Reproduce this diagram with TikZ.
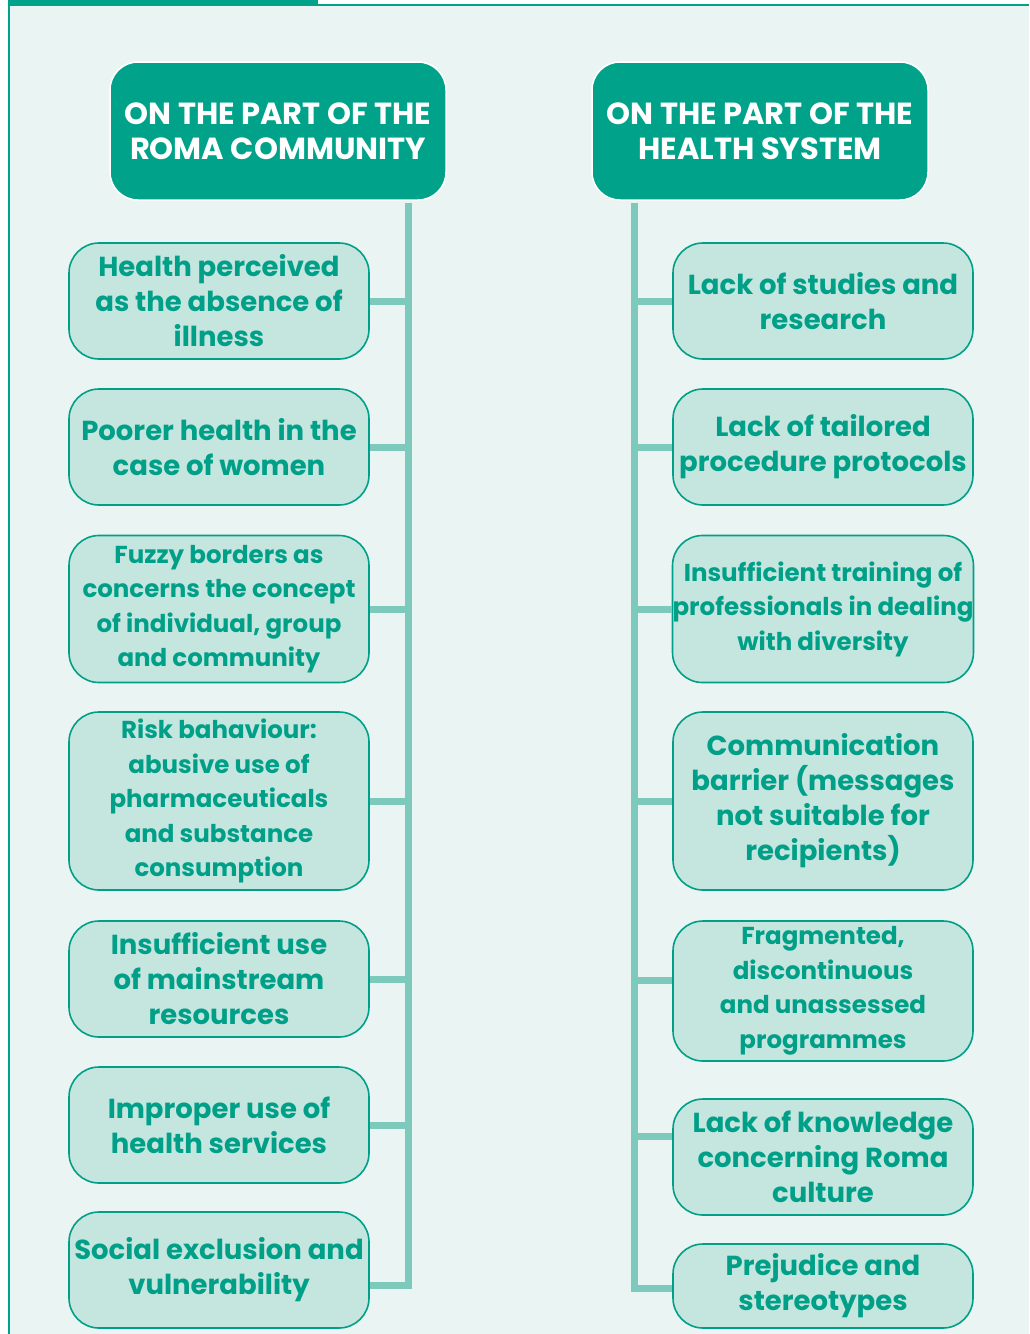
\documentclass[tikz,border=0pt]{standalone}
\usepackage{fontspec}
\setmainfont{Poppins}
\definecolor{romateal}{HTML}{00A389}
\definecolor{romabg}{HTML}{EAF4F2}
\definecolor{romabox}{HTML}{C5E5DF}
\definecolor{romatext}{HTML}{00A088}
\definecolor{romaline}{HTML}{7DC9BB}

\begin{document}
\begin{tikzpicture}[x=1pt, y=-1pt,
    header/.style={rectangle, draw=white, line width=1.5pt, fill=romateal, rounded corners=28pt,
        minimum width=336pt, minimum height=138pt, text=white, align=center,
        font=\fontsize{30.5}{35}\selectfont\bfseries},
    item/.style={rectangle, draw=romatext, line width=1.6pt, fill=romabox, rounded corners=30pt,
        minimum width=300pt, inner sep=0pt, text=romatext, align=center,
        font=\fontsize{27.5}{35}\selectfont\bfseries},
    itemsmall/.style={item, font=\fontsize{24.5}{34.5}\selectfont\bfseries},
    branch/.style={draw=romaline, line width=7pt}]
            \useasboundingbox (0,0) rectangle (1029,1334);

            % Frame
            \fill[romabg] (9,5) rectangle (1029,1334);
            \draw[romateal, line width=2.5pt] (9,1334) -- (9,5) -- (1029,5);
            \fill[romateal] (8,0) rectangle (318,5);

            % Headers
            \node[header] (hl) at (278,131) {ON THE PART OF THE\\ROMA COMMUNITY};
            \node[header] (hr) at (760,131) {ON THE PART OF THE\\HEALTH SYSTEM};

            % Roma community
            \node[item, minimum height=116pt] (l1) at (219,301) {Health perceived\\as the absence of\\illness};
            \node[item, minimum height=116pt] (l2) at (219,447) {Poorer health in the\\case of women};
            \node[itemsmall, minimum height=147pt] (l3) at (219,609) {Fuzzy borders as\\concerns the concept\\of individual, group\\and community};
            \node[itemsmall, minimum height=178pt] (l4) at (219,801) {Risk bahaviour:\\abusive use of\\pharmaceuticals\\and substance\\consumption};
            \node[item, minimum height=116pt] (l5) at (219,979) {Insufficient use\\of mainstream\\resources};
            \node[item, minimum height=116pt] (l6) at (219,1125) {Improper use of\\health services};
            \node[item, minimum height=116pt] (l7) at (219,1270) {Social exclusion and\\vulnerability};

            % Health system
            \node[item, minimum height=116pt] (r1) at (823,301) {Lack of studies and\\research};
            \node[item, minimum height=116pt] (r2) at (823,447) {Lack of tailored\\procedure protocols};
            \node[itemsmall, minimum height=147pt] (r3) at (823,609) {Insufficient training of\\professionals in dealing\\with diversity};
            \node[item, minimum height=178pt] (r4) at (823,801) {Communication\\barrier (messages\\not suitable for\\recipients)};
            \node[itemsmall, minimum height=140pt] (r5) at (823,991) {Fragmented,\\discontinuous\\and unassessed\\programmes};
            \node[item, minimum height=116pt] (r6) at (823,1157) {Lack of knowledge\\concerning Roma\\culture};
            \node[item, minimum height=84pt] (r7) at (823,1286) {Prejudice and\\stereotypes};

            % Trunks
            \coordinate (tl) at (408,203);
            \coordinate (tr) at (634,203);
            \coordinate (l7in) at ([yshift=-15pt]l7.east);
            \coordinate (r5in) at ([yshift=11pt]r5.west);
            \coordinate (r6in) at ([yshift=21pt]r6.west);
            \coordinate (r7in) at ([yshift=-2pt]r7.west);
            \draw[branch] (tl) |- (l7in);
            \draw[branch] (tr) |- (r7in);

            % Branches
            \foreach \n in {l1,l2,l3,l4,l5,l6}
                \draw[branch] (\n.east) -- (tl |- \n.east);
            \foreach \n in {r1,r2,r3,r4}
                \draw[branch] (\n.west) -- (tr |- \n.west);
            \draw[branch] (r5in) -- (tr |- r5in);
            \draw[branch] (r6in) -- (tr |- r6in);
\end{tikzpicture}
\end{document}
